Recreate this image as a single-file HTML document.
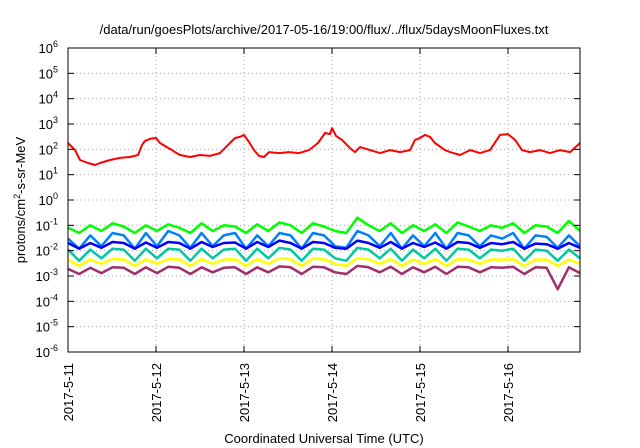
<!DOCTYPE html>
<html><head><meta charset="utf-8"><style>
body{margin:0;background:#fff}
svg{display:block;font-family:"Liberation Sans",sans-serif}
</style></head><body>
<svg id="chart" width="640" height="448">
<text x="324" y="34" text-anchor="middle" font-size="13">/data/run/goesPlots/archive/2017-05-16/19:00/flux/../flux/5daysMoonFluxes.txt</text>
<text x="324" y="443" text-anchor="middle" font-size="13">Coordinated Universal Time (UTC)</text>
<text transform="translate(25,200) rotate(-90)" text-anchor="middle" font-size="13">protons/cm<tspan dy="-5" font-size="9">2</tspan><tspan dy="5">-s-sr-MeV</tspan></text>
<g id="grid"></g><g id="series"></g><g id="axes"></g>
</svg>
<script>
const dayLabels=["2017-5-11","2017-5-12","2017-5-13","2017-5-14","2017-5-15","2017-5-16"];
const yExps=[-6,-5,-4,-3,-2,-1,0,1,2,3,4,5,6];
const redT=[0,0.08,0.136,0.227,0.307,0.364,0.477,0.591,0.705,0.795,0.841,0.875,0.932,1.0,1.045,1.102,1.182,1.216,1.273,1.386,1.5,1.614,1.727,1.818,1.898,1.955,2.0,2.057,2.114,2.17,2.227,2.284,2.398,2.511,2.625,2.739,2.841,2.92,2.977,3.0,3.045,3.114,3.205,3.261,3.318,3.432,3.545,3.659,3.773,3.886,3.943,4.0,4.057,4.114,4.17,4.284,4.341,4.455,4.568,4.682,4.795,4.909,5.0,5.08,5.159,5.25,5.364,5.477,5.591,5.705,5.818];
const redV=[178,93,38,29,24,29,38,46,50,60,148,215,260,280,178,135,93,78,60,50,60,55,71,148,280,310,370,195,93,55,50,78,71,78,71,93,178,440,400,690,340,235,112,78,123,93,71,93,78,93,235,280,370,310,178,93,78,60,93,71,93,370,400,235,93,78,93,71,93,78,178];
const tStep=0.125;
const green=[0.08,0.05,0.1,0.06,0.12,0.09,0.05,0.1,0.06,0.11,0.08,0.05,0.12,0.06,0.1,0.09,0.05,0.11,0.06,0.13,0.1,0.05,0.12,0.09,0.06,0.05,0.2,0.1,0.06,0.12,0.05,0.1,0.06,0.11,0.05,0.13,0.09,0.06,0.1,0.08,0.12,0.05,0.1,0.09,0.05,0.15,0.06];
const lightBlue=[0.03,0.012,0.04,0.015,0.05,0.04,0.012,0.05,0.015,0.06,0.04,0.013,0.05,0.015,0.04,0.05,0.012,0.04,0.015,0.05,0.04,0.012,0.05,0.04,0.015,0.013,0.06,0.04,0.015,0.05,0.012,0.04,0.015,0.05,0.012,0.05,0.04,0.015,0.04,0.03,0.05,0.012,0.04,0.035,0.013,0.04,0.015];
const blue=[0.02,0.012,0.02,0.013,0.022,0.02,0.012,0.021,0.013,0.022,0.02,0.012,0.022,0.014,0.02,0.021,0.012,0.022,0.014,0.025,0.02,0.012,0.022,0.02,0.013,0.012,0.025,0.02,0.013,0.022,0.012,0.02,0.014,0.021,0.012,0.022,0.02,0.013,0.02,0.018,0.022,0.012,0.019,0.018,0.012,0.02,0.013];
const teal=[0.011,0.004,0.011,0.005,0.012,0.011,0.004,0.012,0.005,0.012,0.011,0.004,0.012,0.005,0.011,0.012,0.004,0.012,0.005,0.013,0.011,0.004,0.012,0.011,0.005,0.004,0.013,0.011,0.005,0.012,0.004,0.011,0.005,0.012,0.004,0.012,0.011,0.005,0.011,0.01,0.012,0.004,0.011,0.01,0.004,0.011,0.005];
const yellow=[0.0045,0.0025,0.0045,0.003,0.0047,0.0045,0.0025,0.0046,0.003,0.0047,0.0045,0.0025,0.0047,0.003,0.0045,0.0046,0.0025,0.0047,0.003,0.005,0.0046,0.0025,0.0048,0.0046,0.003,0.0025,0.005,0.0046,0.003,0.0047,0.0025,0.0045,0.003,0.0046,0.0025,0.0046,0.0045,0.003,0.0045,0.0044,0.0046,0.0025,0.0045,0.0044,0.0025,0.0045,0.003];
const purple=[0.0019,0.0012,0.0021,0.0013,0.0022,0.0021,0.0012,0.0022,0.0013,0.0023,0.0021,0.0012,0.0022,0.0014,0.0021,0.0022,0.0012,0.0022,0.0014,0.0024,0.0022,0.0012,0.0023,0.0022,0.0014,0.0012,0.0025,0.0022,0.0014,0.0023,0.0012,0.0022,0.0014,0.0023,0.0012,0.0023,0.0022,0.0014,0.0022,0.0021,0.0023,0.0012,0.0022,0.0021,0.0003,0.0022,0.0013];

const NS="http://www.w3.org/2000/svg";
const L=68,R=580,T=48,B=352,DAYS=5.818;
const xS=t=>L+(t/DAYS)*(R-L);
const yS=v=>T+(6-Math.log10(v))/12*(B-T);
function mk(tag,attrs,parent){const e=document.createElementNS(NS,tag);for(const k in attrs)e.setAttribute(k,attrs[k]);parent.appendChild(e);return e;}
const grid=document.getElementById('grid'),axes=document.getElementById('axes'),ser=document.getElementById('series');
yExps.forEach(e=>{
  const y=yS(Math.pow(10,e));
  if(e>-6&&e<6){const g=mk('line',{x1:L,x2:R,y1:y,y2:y,stroke:'#aaa','stroke-width':1,'stroke-dasharray':'1,3'},grid);
  
  }
  mk('line',{x1:L,x2:L+6,y1:y,y2:y,stroke:'#000'},axes);
  mk('line',{x1:R-6,x2:R,y1:y,y2:y,stroke:'#000'},axes);
  const t=mk('text',{x:58,y:y+5,'text-anchor':'end','font-size':13},axes);
  
  
  t.textContent='10';
  const s=mk('tspan',{dy:-6,'font-size':9},t);s.textContent=String(e);
});
dayLabels.forEach((d,i)=>{
  const x=xS(i);
  if(i>0){const g=mk('line',{x1:x,x2:x,y1:T,y2:B,stroke:'#aaa','stroke-dasharray':'1,3'},grid);
  
  }
  mk('line',{x1:x,x2:x,y1:B-6,y2:B,stroke:'#000'},axes);
  mk('line',{x1:x,x2:x,y1:T,y2:T+6,stroke:'#000'},axes);
  const t=mk('text',{transform:`translate(${x+5},363) rotate(-90)`,'text-anchor':'end','font-size':13},axes);
  
  
  t.textContent=d;
});
const fr=mk('rect',{x:L,y:T,width:R-L,height:B-T,fill:'none',stroke:'#000','stroke-width':1},axes);


function line(ts,vs,color,name,w){
  const d=vs.map((v,i)=>(i?'L':'M')+xS(ts(i)).toFixed(1)+','+yS(v).toFixed(1)).join('');
  const p=mk('path',{d:d,fill:'none',stroke:color,'stroke-width':w,'stroke-linejoin':'round'},ser);
  
  
}
const st=i=>Math.min(i*tStep*(DAYS/5.75),DAYS);
line(st,purple,'#a0306a','series-purple',2.5);
line(st,yellow,'#ffff00','series-yellow',2.5);
line(st,teal,'#00c8a0','series-teal',2.5);
line(st,green,'#00ff00','series-green',2.5);
line(st,lightBlue,'#0080ff','series-light-blue',2.5);
line(st,blue,'#0000ff','series-blue',2.5);
line(i=>redT[i],redV,'#ff0000','series-red',2);
</script>
</body></html>
